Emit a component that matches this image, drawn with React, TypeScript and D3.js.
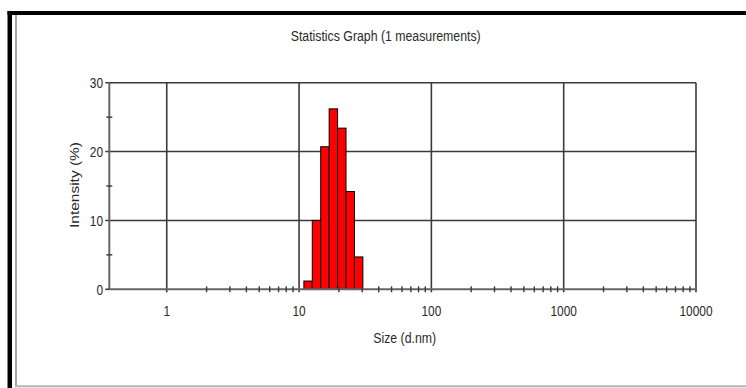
import { useCallback } from "react";
import * as d3 from "d3";

// Size classes (d.nm, bin centres) and intensity (%)
const sizes = [11.7, 13.54, 15.69, 18.17, 21.04, 24.36, 28.21];
const intensities = [1.2, 10.0, 20.7, 26.2, 23.4, 14.2, 4.7];

const xTicks = [1, 10, 100, 1000, 10000];
const xTickLabels = ["1", "10", "100", "1000", "10000"];
const yTicks = [0, 10, 20, 30];
const yTickLabels = ["0", "10", "20", "30"];
const yMinorTicks = [5, 15, 25];

const title = "Statistics Graph (1 measurements)";
const xLabel = "Size (d.nm)";
const yLabel = "Intensity (%)";

const width = 746;
const height = 388;

const App = () => {
  const chart = useCallback((node: HTMLDivElement | null) => {
    if (!node) return;
    const parent = d3.select(node);
    parent.selectAll("*").remove();

    const xScale = d3.scaleLog().domain([0.368, 10000]).range([109.3, 696]);
    const yScale = d3.scaleLinear().domain([0, 30]).range([289.3, 82.7]);
    const font = "'Liberation Sans', Arial, sans-serif";
    const gridColor = "#3a3a3a";
    const axisColor = "#666";
    const textColor = "#2a2a2a";

    const svg = parent
      .append("svg")
      .attr("width", width)
      .attr("height", height)
      .attr("viewBox", [0, 0, width, height])
      .style("display", "block")
      .style("background", "#fff");

    // outer frame
    svg.append("rect").attr("x", 7.5).attr("y", 11).attr("width", width - 7.5).attr("height", 4).attr("fill", "#000");
    svg.append("rect").attr("x", 7.5).attr("y", 11).attr("width", 4.5).attr("height", height - 11).attr("fill", "#000");
    svg.append("rect").attr("x", 15).attr("y", 15).attr("width", 2).attr("height", 372).attr("fill", "#a6a6a6");
    svg.append("rect").attr("x", 15).attr("y", 385.3).attr("width", width - 15).attr("height", 2).attr("fill", "#b3b3b3");

    // horizontal grid
    svg.append("g")
      .selectAll("line")
      .data(yTicks.filter((d) => d > 0))
      .join("line")
      .attr("x1", xScale.range()[0] - 4)
      .attr("x2", xScale.range()[1])
      .attr("y1", (d) => yScale(d))
      .attr("y2", (d) => yScale(d))
      .attr("stroke", gridColor)
      .attr("stroke-width", 1.6);

    // vertical grid
    svg.append("g")
      .selectAll("line")
      .data(xTicks)
      .join("line")
      .attr("x1", (d) => xScale(d))
      .attr("x2", (d) => xScale(d))
      .attr("y1", yScale(30))
      .attr("y2", yScale(0) + 3)
      .attr("stroke", gridColor)
      .attr("stroke-width", 1.6);

    // bars
    const edges = sizes.map((s, i) => {
      const prev = i > 0 ? sizes[i - 1] : s * s / sizes[1];
      return Math.sqrt(prev * s);
    });
    const last = sizes[sizes.length - 1];
    edges.push(Math.sqrt(last * (last * last / sizes[sizes.length - 2])));

    svg.append("g")
      .selectAll("rect")
      .data(d3.range(sizes.length))
      .join("rect")
      .attr("x", (i) => xScale(edges[i]))
      .attr("width", (i) => xScale(edges[i + 1]) - xScale(edges[i]))
      .attr("y", (i) => yScale(intensities[i]))
      .attr("height", (i) => yScale(0) - yScale(intensities[i]))
      .attr("fill", "#ff0000")
      .attr("stroke", "#000")
      .attr("stroke-width", 1);

    // axes lines
    svg.append("line")
      .attr("x1", xScale.range()[0]).attr("x2", xScale.range()[1])
      .attr("y1", yScale(0)).attr("y2", yScale(0))
      .attr("stroke", axisColor).attr("stroke-width", 2);
    svg.append("line")
      .attr("x1", xScale.range()[0]).attr("x2", xScale.range()[0])
      .attr("y1", yScale(30)).attr("y2", yScale(0))
      .attr("stroke", axisColor).attr("stroke-width", 2);

    // x minor ticks
    const xMinor: number[] = [];
    [1, 10, 100, 1000].forEach((dec) => {
      for (let k = 2; k <= 9; k++) xMinor.push(dec * k);
    });
    svg.append("g")
      .selectAll("line")
      .data(xMinor)
      .join("line")
      .attr("x1", (d) => xScale(d))
      .attr("x2", (d) => xScale(d))
      .attr("y1", yScale(0) - 3)
      .attr("y2", yScale(0) + 3)
      .attr("stroke", gridColor)
      .attr("stroke-width", 1.4);

    // y minor ticks
    svg.append("g")
      .selectAll("line")
      .data(yMinorTicks)
      .join("line")
      .attr("x1", xScale.range()[0] - 3)
      .attr("x2", xScale.range()[0] + 3)
      .attr("y1", (d) => yScale(d))
      .attr("y2", (d) => yScale(d))
      .attr("stroke", gridColor)
      .attr("stroke-width", 1.4);
    // zero tick
    svg.append("line")
      .attr("x1", xScale.range()[0] - 4).attr("x2", xScale.range()[0])
      .attr("y1", yScale(0)).attr("y2", yScale(0))
      .attr("stroke", gridColor).attr("stroke-width", 1.6);

    // tick labels
    svg.append("g")
      .selectAll("text")
      .data(d3.range(xTicks.length))
      .join("text")
      .attr("x", (i) => xScale(xTicks[i]))
      .attr("y", 316)
      .attr("text-anchor", "middle")
      .attr("textLength", (i) => xTickLabels[i].length * 6.6)
      .attr("lengthAdjust", "spacingAndGlyphs")
      .style("font-family", font)
      .style("font-size", "14px")
      .attr("fill", textColor)
      .text((i) => xTickLabels[i]);

    svg.append("g")
      .selectAll("text")
      .data(d3.range(yTicks.length))
      .join("text")
      .attr("x", 103)
      .attr("y", (i) => yScale(yTicks[i]) + 5.2)
      .attr("text-anchor", "end")
      .attr("textLength", (i) => yTickLabels[i].length * 6.6)
      .attr("lengthAdjust", "spacingAndGlyphs")
      .style("font-family", font)
      .style("font-size", "14px")
      .attr("fill", textColor)
      .text((i) => yTickLabels[i]);

    // titles
    svg.append("text")
      .attr("x", 385.7)
      .attr("y", 41)
      .attr("text-anchor", "middle")
      .attr("textLength", 190)
      .attr("lengthAdjust", "spacingAndGlyphs")
      .style("font-family", font)
      .style("font-size", "14px")
      .attr("fill", textColor)
      .text(title);

    svg.append("text")
      .attr("x", 404.7)
      .attr("y", 343)
      .attr("text-anchor", "middle")
      .attr("textLength", 63)
      .attr("lengthAdjust", "spacingAndGlyphs")
      .style("font-family", font)
      .style("font-size", "14px")
      .attr("fill", textColor)
      .text(xLabel);

    svg.append("text")
      .attr("transform", "translate(79,185) rotate(-90)")
      .attr("text-anchor", "middle")
      .attr("textLength", 86)
      .attr("lengthAdjust", "spacingAndGlyphs")
      .style("font-family", font)
      .style("font-size", "12px")
      .attr("fill", textColor)
      .text(yLabel);
  }, []);

  return (
    <div
      ref={chart}
      style={{ position: "absolute", left: 0, top: 0, width, height }}
    ></div>
  );
};

export default App;
